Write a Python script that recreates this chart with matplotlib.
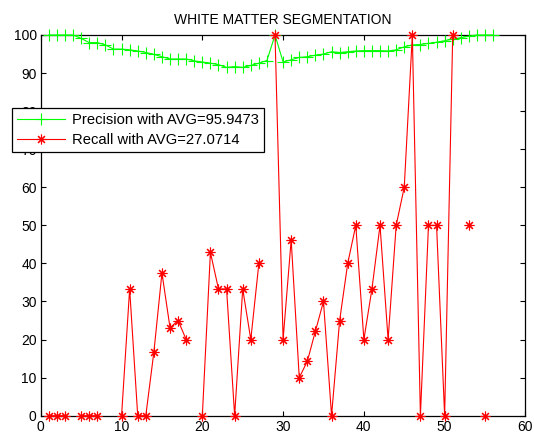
import numpy as np
import matplotlib
matplotlib.use("Agg")
import matplotlib.pyplot as plt

plt.rcParams["font.family"] = ["Liberation Sans", "DejaVu Sans"]

nan = np.nan

# Image index (1..56)
slices = np.arange(1, 57)

# Precision per image (%)
precision = [
    100.0, 100.0, 100.0, 100.0, 99.1, 98.0, 98.0, 97.4, 96.3, 96.3,
    96.1, 95.8, 95.4, 94.9, 94.3, 93.7, 93.7, 93.7, 93.2, 92.9,
    92.6, 92.2, 91.5, 91.7, 91.5, 92.0, 92.6, 93.3, 100.0, 92.9,
    93.5, 94.1, 94.3, 94.7, 95.0, 95.6, 95.4, 95.6, 95.8, 95.9,
    95.9, 95.9, 95.8, 96.1, 96.9, 97.4, 97.5, 97.8, 98.1, 98.5,
    98.9, 99.3, 99.7, 100.0, 100.0, 100.0,
]

# Recall per image (%); NaN where it is undefined
recall = [
    0.0, 0.0, 0.0, nan, 0.0, 0.0, 0.0, nan, nan, 0.0,
    33.3, 0.0, 0.0, 16.7, 37.5, 23.1, 25.0, 20.0, nan, 0.0,
    42.9, 33.3, 33.3, 0.0, 33.3, 20.0, 40.0, nan, 100.0, 20.0,
    46.2, 10.0, 14.3, 22.2, 30.0, 0.0, 25.0, 40.0, 50.0, 20.0,
    33.3, 50.0, 20.0, 50.0, 60.0, 100.0, 0.0, 50.0, 50.0, 0.0,
    100.0, nan, 50.0, nan, 0.0, nan,
]

precision_label = "Precision with AVG=95.9473"
recall_label = "Recall with AVG=27.0714"
title_text = "WHITE MATTER SEGMENTATION"

fig = plt.figure(figsize=(5.34, 4.34), dpi=100)
ax = fig.add_axes([40.8 / 534, 18.3 / 434, 484.6 / 534, 380.7 / 434])

ax.plot(slices, precision, color=(0, 1, 0), lw=0.8, marker="+", ms=8,
        mew=0.8, label=precision_label, clip_on=False, zorder=3)
ax.plot(slices, recall, color=(1, 0, 0), lw=0.8, marker=(8, 2, 0), ms=7,
        mew=0.8, label=recall_label, clip_on=False, zorder=3)

ax.set_xlim(0, 60)
ax.set_ylim(0, 100)
ax.set_xticks(np.arange(0, 61, 10))
ax.set_yticks(np.arange(0, 101, 10))
ax.tick_params(direction="in", length=3.5, width=0.8, top=True, right=True,
               labelsize=10, pad=3)
for s in ax.spines.values():
    s.set_linewidth(0.9)
    s.set_zorder(2.5)

ax.set_title(title_text, fontsize=10, pad=8)

leg = ax.legend(loc="upper left", bbox_to_anchor=(12.3 / 534, 1 - 108.3 / 434),
                bbox_transform=fig.transFigure, fontsize=10.6, fancybox=False,
                framealpha=1, edgecolor="black", handlelength=3.2,
                handletextpad=0.5, borderpad=0.35, labelspacing=0.36,
                borderaxespad=0)
leg.get_frame().set_linewidth(0.9)
leg.set_zorder(10)

fig.savefig("out.png", dpi=100)
